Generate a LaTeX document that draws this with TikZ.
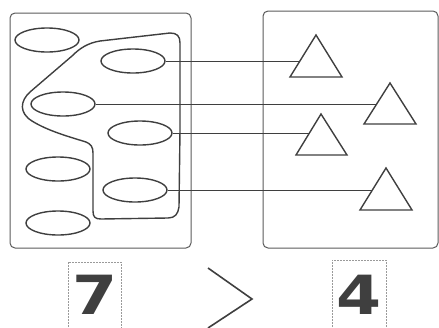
\documentclass[tikz,border=0pt]{standalone}
\usepackage{fontspec}
\newfontfamily\digitfont{DejaVu Sans}
\usetikzlibrary{shapes.geometric,calc}
\definecolor{ink}{HTML}{3F3F3F}
\definecolor{boxline}{HTML}{5A5A5A}
\definecolor{dashgray}{HTML}{9A9A9A}
\begin{document}
\begin{tikzpicture}[x=1pt,y=-1pt,
  oval/.style={ellipse,draw=ink,line width=1.4pt,minimum width=64pt,minimum height=24pt,inner sep=0pt},
  tri/.style={draw=ink,line width=1.4pt,line join=miter},
  link/.style={draw=ink,line width=1pt},
  panel/.style={draw=boxline,line width=1pt,rounded corners=5pt},
  numbox/.style={draw=dashgray,line width=0.6pt,dashed,dash pattern=on 2pt off 1pt},
  digit/.style={inner sep=0pt,anchor=base,xscale=1.2,text=ink,font=\digitfont\bfseries\fontsize{54}{54}\selectfont}]
\useasboundingbox (0,0) rectangle (439,327);
% panels
\draw[panel] (10,13) rectangle (191,248);
\draw[panel] (263,11) rectangle (438,248);
% lasso
\draw[ink,line width=1.4pt,line join=round]
  (180,130) -- (180,43)
  .. controls (180,36) and (177,33) .. (170,33)
  -- (100,41)
  .. controls (88,43) and (80,48) .. (72,56) -- (30,92)
  .. controls (20,101) and (19,113) .. (32,121)
  .. controls (48,131) and (70,137) .. (86,142)
  .. controls (91,144) and (93,147) .. (93,153)
  -- (93,211)
  .. controls (93,217) and (95,219) .. (101,219)
  -- (168,218)
  .. controls (175,218) and (178,214) .. (179,207)
  -- (180,130);
% ovals
\node[oval] (e1) at (47,40) {};
\node[oval] (e2) at (133,61) {};
\node[oval] (e3) at (63,104) {};
\node[oval] (e4) at (140,133) {};
\node[oval] (e5) at (58,169) {};
\node[oval] (e6) at (135,190) {};
\node[oval] (e7) at (58,223) {};
% triangles
\draw[tri] (316,35) -- (342,77) -- (290,77) -- cycle;
\draw[tri] (390,83) -- (416,124) -- (364,124) -- cycle;
\draw[tri] (321,114) -- (347,155) -- (296,155) -- cycle;
\draw[tri] (386,168) -- (412,210) -- (360,210) -- cycle;
\coordinate (h1) at (300,61);
\coordinate (h2) at (377,104);
\coordinate (h3) at (309,133);
\coordinate (h4) at (372,190);
% connectors
\draw[link] (e2.east) -- (h1);
\draw[link] (e3.east) -- (h2);
\draw[link] (e4.east) -- (h3);
\draw[link] (e6.east) -- (h4);
% numbers
\draw[numbox] (68,330) -- (68,262) -- (121,262) -- (121,330);
\draw[numbox] (332,330) -- (332,260) -- (386,260) -- (386,330);
\node[digit] (n7) at (95,314) {7};
\node[digit] (n4) at (359,314) {4};
\draw[ink,line width=1.6pt,line join=miter] (208,268) -- (252,299) -- (208,328);
\end{tikzpicture}
\end{document}
